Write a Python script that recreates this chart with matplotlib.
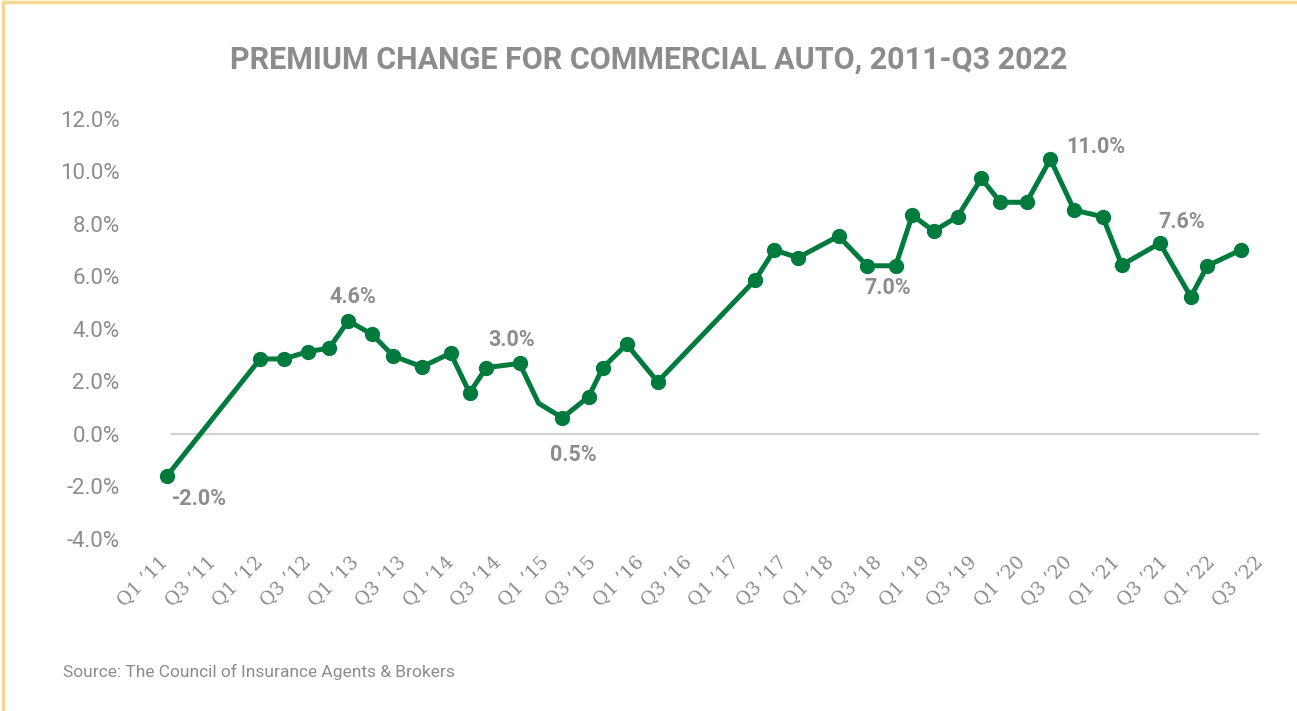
import matplotlib as mpl
import matplotlib.pyplot as plt
from matplotlib.lines import Line2D

# ------- DATA ------- #
# x position of each point in quarters after Q1 '11
x_pos = [0.1, 4.0, 5.0, 6.0, 6.9, 7.7, 8.7, 9.6, 10.8, 12.0, 12.8, 13.5, 14.9,
         15.7, 16.7, 17.8, 18.4, 19.4, 20.7, 24.8, 25.6, 26.6, 28.3, 29.5,
         30.7, 31.4, 32.3, 33.3, 34.3, 35.1, 36.2, 37.2, 38.2, 39.4, 40.2,
         41.8, 43.1, 43.8, 45.2]
premium_change = [-1.6, 2.84, 2.84, 3.12, 3.25, 4.29, 3.78, 2.95, 2.54, 3.06,
                  1.55, 2.51, 2.67, 1.15, 0.60, 1.40, 2.51, 3.40, 1.97, 5.85,
                  6.99, 6.70, 7.52, 6.39, 6.39, 8.32, 7.71, 8.26, 9.72, 8.81,
                  8.81, 10.45, 8.51, 8.26, 6.42, 7.25, 5.21, 6.39, 6.99]
no_marker = [13]

tick_labels = ['Q1 ’11', 'Q3 ’11', 'Q1 ’12', 'Q3 ’12', 'Q1 ’13', 'Q3 ’13',
               'Q1 ’14', 'Q3 ’14', 'Q1 ’15', 'Q3 ’15', 'Q1 ’16', 'Q3 ’16',
               'Q1 ’17', 'Q3 ’17', 'Q1 ’18', 'Q3 ’18', 'Q1 ’19', 'Q3 ’19',
               'Q1 ’20', 'Q3 ’20', 'Q1 ’21', 'Q3 ’21', 'Q1 ’22', 'Q3 ’22']
tick_pos = list(range(0, 47, 2))
y_ticks = [-4, -2, 0, 2, 4, 6, 8, 10, 12]

label_text = ['-2.0%', '4.6%', '3.0%', '0.5%', '7.0%', '11.0%', '7.6%']
label_point = [0, 5, 12, 14, 24, 31, 35]

# ------- STYLE ------- #
green = '#007a3d'
grey = '#8c8c8f'
border = '#f6d88e'
mpl.rcParams['font.family'] = ['Roboto', 'DejaVu Sans']

label_offsets = [(23, -17), (3, 17), (-6, 17), (8, -27), (-6, -16), (33, 9), (16, 15)]

fig = plt.figure(figsize=(12.97, 7.11), dpi=100)
fig.set_facecolor('white')
ax = fig.add_axes([0.118, 0.2426, 0.8625, 0.5907])

# line + markers
markers_on = [i for i in range(len(x_pos)) if i not in no_marker]
ax.plot(x_pos, premium_change, color=green, lw=3.6,
        marker='o', ms=10, markevery=markers_on, clip_on=False, zorder=5)
ax.axhline(0, xmin=0.0166, xmax=0.9878, color='#d0d0d0', lw=1.6, zorder=1)

# data labels
for txt, idx, off in zip(label_text, label_point, label_offsets):
    ax.annotate(txt, (x_pos[idx], premium_change[idx]),
                xytext=off, textcoords='offset points',
                ha='center', va='center', fontsize=15.5,
                fontweight='bold', color=grey)

# axes
ax.set_xlim(-0.5, 46.5)
ax.set_ylim(-4, 12)
for spine in ['top', 'bottom', 'right', 'left']:
    ax.spines[spine].set_visible(False)
ax.set_yticks(y_ticks)
ax.set_yticklabels([f'{v:.1f}%' for v in y_ticks])
ax.set_xticks(tick_pos)
ax.set_xticklabels(tick_labels, rotation=45, ha='right', va='center',
                   rotation_mode='anchor', family=['DejaVu Serif'])
ax.tick_params(axis='y', length=0, pad=24, labelsize=16, labelcolor=grey)
ax.tick_params(axis='x', length=0, pad=15, labelsize=13.5, labelcolor=grey)

# titles
fig.text(s='PREMIUM CHANGE FOR COMMERCIAL AUTO, 2011-Q3 2022', x=0.5, y=0.916,
         ha='center', va='center', color=grey, fontsize=22, fontweight='bold')
fig.text(s='Source: The Council of Insurance Agents & Brokers', x=0.0486, y=0.055,
         ha='left', va='center', color=grey, fontsize=12.5)

# border
fig.add_artist(Line2D([0.002, 1], [0.997, 0.997], color=border, lw=2.5,
                      transform=fig.transFigure))
fig.add_artist(Line2D([0.002, 0.002], [0, 0.997], color=border, lw=2.5,
                      transform=fig.transFigure))

plt.savefig('out.png', dpi=100)
